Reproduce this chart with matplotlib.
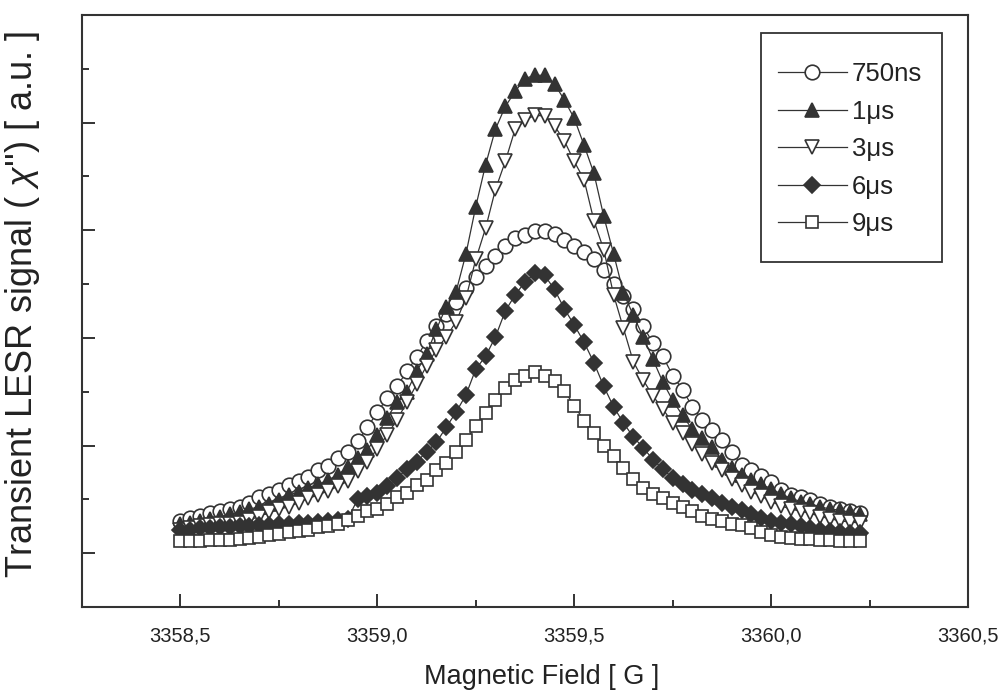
import matplotlib
matplotlib.use("Agg")
import matplotlib.pyplot as plt
from matplotlib.ticker import MultipleLocator, FuncFormatter
from matplotlib.patches import Rectangle

plt.rcParams['font.family'] = ['Liberation Sans', 'DejaVu Sans']
plt.rcParams['mathtext.fontset'] = 'custom'
plt.rcParams['mathtext.rm'] = 'Liberation Sans'
plt.rcParams['mathtext.it'] = 'Liberation Sans:italic'

field = [3358.500, 3358.525, 3358.550, 3358.575, 3358.600, 3358.625, 3358.650, 3358.675,
         3358.700, 3358.725, 3358.750, 3358.775, 3358.800, 3358.825, 3358.850, 3358.875,
         3358.900, 3358.925, 3358.950, 3358.975, 3359.000, 3359.025, 3359.050, 3359.075,
         3359.100, 3359.125, 3359.150, 3359.175, 3359.200, 3359.225, 3359.250, 3359.275,
         3359.300, 3359.325, 3359.350, 3359.375, 3359.400, 3359.425, 3359.450, 3359.475,
         3359.500, 3359.525, 3359.550, 3359.575, 3359.600, 3359.625, 3359.650, 3359.675,
         3359.700, 3359.725, 3359.750, 3359.775, 3359.800, 3359.825, 3359.850, 3359.875,
         3359.900, 3359.925, 3359.950, 3359.975, 3360.000, 3360.025, 3360.050, 3360.075,
         3360.100, 3360.125, 3360.150, 3360.175, 3360.200, 3360.225]

s_750ns = [0.30, 0.33, 0.35, 0.37, 0.39, 0.41, 0.43, 0.47, 0.52, 0.55, 0.59, 0.63, 0.67, 0.71,
           0.77, 0.81, 0.88, 0.94, 1.04, 1.17, 1.31, 1.44, 1.55, 1.69, 1.82, 1.97, 2.11, 2.22,
           2.33, 2.46, 2.57, 2.67, 2.76, 2.85, 2.93, 2.96, 2.99, 2.99, 2.97, 2.91, 2.85, 2.80,
           2.73, 2.63, 2.50, 2.39, 2.27, 2.11, 1.95, 1.83, 1.65, 1.52, 1.36, 1.24, 1.14, 1.05,
           0.94, 0.82, 0.77, 0.72, 0.66, 0.59, 0.54, 0.52, 0.49, 0.46, 0.43, 0.41, 0.39, 0.37]

s_1us = [0.27, 0.28, 0.30, 0.32, 0.34, 0.36, 0.38, 0.41, 0.43, 0.46, 0.49, 0.54, 0.57, 0.61,
         0.64, 0.68, 0.73, 0.80, 0.88, 0.96, 1.10, 1.26, 1.40, 1.50, 1.69, 1.85, 2.08, 2.29,
         2.43, 2.78, 3.22, 3.61, 3.94, 4.15, 4.29, 4.41, 4.44, 4.44, 4.36, 4.21, 4.04, 3.79,
         3.53, 3.13, 2.78, 2.42, 2.21, 2.01, 1.80, 1.59, 1.42, 1.28, 1.15, 1.07, 0.99, 0.87,
         0.79, 0.73, 0.68, 0.64, 0.60, 0.55, 0.51, 0.48, 0.46, 0.43, 0.41, 0.40, 0.38, 0.36]

s_3us = [0.22, 0.23, 0.25, 0.26, 0.27, 0.27, 0.28, 0.31, 0.34, 0.38, 0.41, 0.43, 0.47, 0.51,
         0.54, 0.58, 0.62, 0.67, 0.76, 0.85, 0.97, 1.10, 1.24, 1.40, 1.57, 1.74, 1.89, 2.01,
         2.15, 2.37, 2.73, 3.02, 3.38, 3.64, 3.94, 4.02, 4.07, 4.06, 3.97, 3.83, 3.64, 3.47,
         3.09, 2.82, 2.40, 2.09, 1.78, 1.61, 1.46, 1.34, 1.21, 1.12, 1.01, 0.92, 0.84, 0.77,
         0.69, 0.63, 0.57, 0.53, 0.48, 0.44, 0.41, 0.39, 0.37, 0.34, 0.32, 0.30, 0.29, 0.28]

s_6us = [0.22, 0.22, 0.23, 0.23, 0.24, 0.24, 0.25, 0.25, 0.26, 0.26, 0.27, 0.27, 0.28, 0.28,
         0.29, 0.30, 0.31, 0.32, 0.50, 0.53, 0.56, 0.62, 0.70, 0.78, 0.85, 0.94, 1.03, 1.17,
         1.31, 1.47, 1.71, 1.83, 2.01, 2.25, 2.40, 2.52, 2.60, 2.58, 2.45, 2.27, 2.12, 1.96,
         1.77, 1.55, 1.36, 1.21, 1.08, 0.98, 0.87, 0.78, 0.70, 0.64, 0.59, 0.55, 0.51, 0.47,
         0.43, 0.40, 0.36, 0.33, 0.30, 0.28, 0.27, 0.25, 0.23, 0.22, 0.21, 0.20, 0.19, 0.19]

s_9us = [0.11, 0.11, 0.11, 0.12, 0.12, 0.12, 0.13, 0.14, 0.15, 0.17, 0.18, 0.20, 0.21, 0.22,
         0.24, 0.25, 0.27, 0.31, 0.35, 0.39, 0.41, 0.46, 0.52, 0.56, 0.63, 0.68, 0.77, 0.84,
         0.94, 1.05, 1.18, 1.30, 1.42, 1.53, 1.61, 1.65, 1.68, 1.65, 1.60, 1.51, 1.37, 1.23,
         1.12, 1.00, 0.90, 0.79, 0.69, 0.61, 0.55, 0.51, 0.47, 0.43, 0.39, 0.35, 0.32, 0.30,
         0.27, 0.26, 0.23, 0.20, 0.17, 0.15, 0.14, 0.13, 0.13, 0.12, 0.12, 0.11, 0.11, 0.11]

labels = ['750ns', '1μs', '3μs', '6μs', '9μs']
x_ticks = [3358.5, 3359.0, 3359.5, 3360.0, 3360.5]

C = '#333333'
T = '#222222'
W, H = 1005, 697
fig = plt.figure(figsize=(W / 100, H / 100), dpi=100)
L, R, TOP, BOT = 82, 968, 15, 607
ax = fig.add_axes([L / W, 1 - BOT / H, (R - L) / W, (BOT - TOP) / H])

def ax_x(px):
    return (px - L) / (R - L)

def ax_y(py):
    return (BOT - py) / (BOT - TOP)

styles = [
    dict(marker='o', mfc='white', ms=10.5),
    dict(marker='^', mfc=C, ms=10.5),
    dict(marker='v', mfc='white', ms=10.5),
    dict(marker='D', mfc=C, ms=8.0),
    dict(marker='s', mfc='white', ms=8.0),
]
series = [s_750ns, s_1us, s_3us, s_6us, s_9us]
for ys, lab, st in zip(series, labels, styles):
    ax.plot(field, ys, color=C, lw=0.9, mec=C, mew=1.2, label=lab, **st)

ax.set_xlim(3358.25, 3360.5)
ax.set_ylim(-0.5, 5.0)
ax.set_xticks(x_ticks)
ax.xaxis.set_minor_locator(MultipleLocator(0.25))
ax.xaxis.set_major_formatter(FuncFormatter(lambda v, p: f"{v:.1f}".replace('.', ',')))
ax.yaxis.set_major_locator(MultipleLocator(1.0))
ax.yaxis.set_minor_locator(MultipleLocator(0.5))
ax.yaxis.set_major_formatter(FuncFormatter(lambda v, p: ''))
ax.tick_params(which='both', direction='in', color=C, width=1.4, top=False, right=False)
ax.tick_params(which='major', length=9.5)
ax.tick_params(which='minor', length=5)
ax.tick_params(axis='x', labelsize=14.5, pad=14, labelcolor=T)
for sp in ax.spines.values():
    sp.set_color(C)
    sp.set_linewidth(1.5)

ax.set_xlabel('Magnetic Field [ G ]', fontsize=19.5, color=T)
ax.xaxis.set_label_coords(ax_x(542), ax_y(664))
ax.set_ylabel("Transient LESR signal ( $\\mathit{\\chi}$'') [ a.u. ]", fontsize=26, color=T)
ax.yaxis.set_label_coords(ax_x(42), ax_y(305))

# legend frame drawn as a box, entries placed inside it
ax.add_patch(Rectangle((ax_x(761), ax_y(262)), ax_x(942) - ax_x(761), ax_y(33) - ax_y(262),
                       transform=ax.transAxes, facecolor='white', edgecolor=C, lw=1.3, zorder=5))
leg = ax.legend(loc='upper left', bbox_to_anchor=(ax_x(778), ax_y(62)), fontsize=18.5,
                numpoints=1, handlelength=2.68, handletextpad=0.2, labelspacing=0.53,
                borderpad=0, borderaxespad=0, frameon=False)
leg.set_zorder(6)
for t in leg.get_texts():
    t.set_color(T)

fig.savefig('out.png', dpi=100)
